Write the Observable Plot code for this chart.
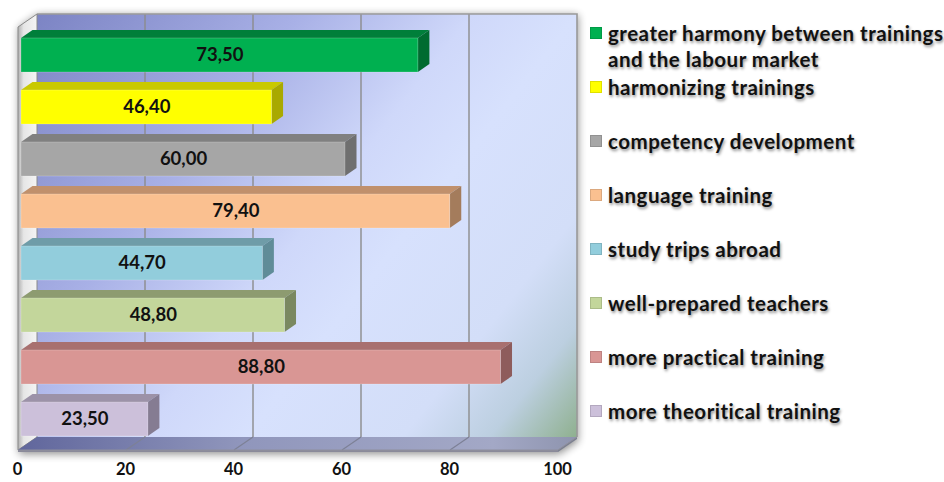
<!DOCTYPE html>
<html><head><meta charset="utf-8">
<script src="https://cdn.jsdelivr.net/npm/d3@7"></script>
<script src="https://cdn.jsdelivr.net/npm/@observablehq/plot@0.6"></script>
<style>
body{margin:0;background:#fff;}
#wrap{position:relative;width:944px;height:482px;overflow:hidden;font-family:Lato,"Open Sans",sans-serif;}
#chart{position:absolute;left:0;top:0;}
#legend{position:absolute;left:590px;top:20px;}
.item{display:flex;align-items:flex-start;height:54px;}
.sw{width:12px;height:12px;margin-top:7px;margin-right:6px;flex:none;box-sizing:border-box;border:1px solid rgba(0,0,0,0.12);}
.lab{font-weight:700;font-size:20.5px;letter-spacing:0.5px;line-height:26px;color:#111;text-shadow:1px 2px 3px rgba(0,0,0,0.45);white-space:pre;}
g[aria-label="tick-labels"] text{filter:drop-shadow(1px 2px 2px rgba(0,0,0,0.45));}
</style></head>
<body>
<div id="wrap"><div id="chart"></div><div id="legend"></div></div>
<script>
// ---- data ----
const categories = ["greater harmony between trainings and the labour market", "harmonizing trainings", "competency development", "language training", "study trips abroad", "well-prepared teachers", "more practical training", "more theoritical training"];
const legendLabels = ["greater harmony between trainings\nand the labour market", "harmonizing trainings", "competency development", "language training", "study trips abroad", "well-prepared teachers", "more practical training", "more theoritical training"];
const values = [73.5, 46.4, 60.0, 79.4, 44.7, 48.8, 88.8, 23.5];
const valueLabels = ["73,50", "46,40", "60,00", "79,40", "44,70", "48,80", "88,80", "23,50"];
const colors = ["#00b050", "#ffff00", "#a6a6a6", "#fac090", "#92cddc", "#c3d69b", "#d99694", "#ccc0da"];
const topColors = ["#007f3a", "#c9c900", "#808080", "#c0906c", "#6f9ca8", "#8d9b70", "#a8706f", "#9c92a8"];
const sideColors = ["#006b30", "#a9a900", "#6f6f6f", "#a47c5c", "#608c98", "#7a8860", "#8e5c5c", "#857c92"];
const xTicks = [0, 20, 40, 60, 80, 100];

const data = categories.map((c, i) => ({cat: c, value: values[i], label: valueLabels[i], color: colors[i], top: topColors[i], side: sideColors[i]}));

// ---- 3D geometry (pixels) ----
const BAR_DX = 11.5, BAR_DY = 8;      // bar depth
const BOX_DX = 19, BOX_DY = 13;       // floor / wall depth
const FRONT_SHIFT = -3;               // floor front edge vs bar origin

function unpack(args) {
  if (args.length >= 4) return {scales: args[1], dims: args[3]};
  return {scales: args[0], dims: args[1]};
}
function fn(s) { return typeof s === "function" ? s : (v) => s.apply(v); }
function bandwidthOf(scales) {
  const y = scales.y;
  if (y && typeof y.bandwidth === "function") return y.bandwidth();
  if (y && typeof y.bandwidth === "number") return y.bandwidth;
  if (scales.scales && scales.scales.y && scales.scales.y.bandwidth != null) return scales.scales.y.bandwidth;
  const f = fn(y);
  return (f(categories[1]) - f(categories[0])) * (1 - 0.354);
}

function background(...args) {
  const {scales, dims} = unpack(args);
  const x = fn(scales.x);
  const fx = v => x(v) + FRONT_SHIFT;
  const bx = v => fx(v) + BOX_DX;
  const yBackBottom = dims.height - dims.marginBottom - 1;
  const yFrontBottom = yBackBottom + BOX_DY;
  const yBackTop = dims.marginTop - 21;
  const yFrontTop = yBackTop + BOX_DY;
  const g = d3.create("svg:g");
  const defs = g.append("defs");
  const wg = defs.append("linearGradient").attr("id", "wallGrad").attr("gradientUnits", "userSpaceOnUse")
    .attr("x1", bx(0)).attr("y1", yBackTop).attr("x2", bx(100)).attr("y2", yBackBottom);
  [[0, "#7c84c4"], [0.3, "#a8b0e6"], [0.5, "#cfd8fa"], [0.62, "#d7e1fd"], [0.8, "#d3def8"], [0.9, "#bccfe0"], [1, "#8fb08f"]]
    .forEach(([o, c]) => wg.append("stop").attr("offset", o).attr("stop-color", c));
  const fg = defs.append("linearGradient").attr("id", "floorGrad").attr("x1", 0).attr("x2", 1).attr("y1", 0).attr("y2", 0);
  [[0, "#60669c"], [0.4, "#9096bc"], [0.85, "#a3a8c6"], [1, "#8e94ae"]]
    .forEach(([o, c]) => fg.append("stop").attr("offset", o).attr("stop-color", c));
  const lg = defs.append("linearGradient").attr("id", "leftGrad").attr("x1", 0).attr("x2", 1).attr("y1", 0).attr("y2", 0);
  [[0, "#b0b0b0"], [0.3, "#e6e6e6"], [1, "#f4f4f4"]]
    .forEach(([o, c]) => lg.append("stop").attr("offset", o).attr("stop-color", c));
  const flt = defs.append("filter").attr("id", "boxShadow").attr("x", "-10%").attr("y", "-10%").attr("width", "120%").attr("height", "120%");
  flt.append("feGaussianBlur").attr("in", "SourceAlpha").attr("stdDeviation", 4);
  flt.append("feOffset").attr("dx", 1).attr("dy", 1).attr("result", "b");
  flt.append("feComponentTransfer").append("feFuncA").attr("type", "linear").attr("slope", 0.45);

  // shadow of whole box
  g.append("path")
    .attr("d", `M${fx(0)},${yFrontTop}L${bx(0)},${yBackTop}L${bx(100)},${yBackTop}L${bx(100)},${yBackBottom + 3}L${fx(100)},${yFrontBottom + 3}L${fx(0)},${yFrontBottom + 3}Z`)
    .attr("fill", "#000").attr("filter", "url(#boxShadow)");
  // back wall
  g.append("rect").attr("x", bx(0)).attr("y", yBackTop).attr("width", bx(100) - bx(0)).attr("height", yBackBottom - yBackTop)
    .attr("fill", "url(#wallGrad)");
  // gridlines on wall
  for (const v of xTicks.slice(1, -1)) {
    g.append("line").attr("x1", bx(v)).attr("x2", bx(v)).attr("y1", yBackTop).attr("y2", yBackBottom)
      .attr("stroke", "#8c8c8c").attr("stroke-width", 1.4);
  }
  // wall border
  g.append("path").attr("d", `M${bx(0)},${yBackTop}L${bx(100)},${yBackTop}L${bx(100)},${yBackBottom}`)
    .attr("fill", "none").attr("stroke", "#9a9a9a").attr("stroke-width", 1.6);
  // left wall
  g.append("path").attr("d", `M${fx(0)},${yFrontBottom}L${bx(0)},${yBackBottom}L${bx(0)},${yBackTop}L${fx(0)},${yFrontTop}Z`)
    .attr("fill", "url(#leftGrad)").attr("stroke", "#8a8a8a").attr("stroke-width", 1);
  // floor
  g.append("path").attr("d", `M${fx(0)},${yFrontBottom}L${fx(100)},${yFrontBottom}L${bx(100)},${yBackBottom}L${bx(0)},${yBackBottom}Z`)
    .attr("fill", "url(#floorGrad)");
  g.append("path").attr("d", `M${fx(0)},${yFrontBottom}L${fx(100)},${yFrontBottom}L${fx(100)},${yFrontBottom + 2}L${fx(0)},${yFrontBottom + 2}Z`)
    .attr("fill", "#8a8a9a");
  g.append("path").attr("d", `M${fx(100)},${yFrontBottom}L${bx(100)},${yBackBottom}L${bx(100)},${yBackBottom + 2}L${fx(100)},${yFrontBottom + 2}Z`)
    .attr("fill", "#7a7f90");
  for (const v of xTicks.slice(1, -1)) {
    g.append("line").attr("x1", bx(v)).attr("x2", fx(v)).attr("y1", yBackBottom).attr("y2", yFrontBottom)
      .attr("stroke", "#7d8196").attr("stroke-width", 1.2);
  }
  g.append("path").attr("d", `M${fx(0)},${yFrontBottom}L${fx(100)},${yFrontBottom}L${bx(100)},${yBackBottom}`)
    .attr("fill", "none").attr("stroke", "#8f8f9c").attr("stroke-width", 1);
  return g.node();
}

function barFaces(...args) {
  const {scales} = unpack(args);
  const x = fn(scales.x), y = fn(scales.y);
  const bw = bandwidthOf(scales);
  const g = d3.create("svg:g");
  for (const d of data) {
    const x0 = x(0), x1 = x(d.value), yt = y(d.cat), yb = yt + bw;
    g.append("path").attr("d", `M${x0},${yt}L${x0 + BAR_DX},${yt - BAR_DY}L${x1 + BAR_DX},${yt - BAR_DY}L${x1},${yt}Z`).attr("fill", d.top);
    g.append("path").attr("d", `M${x1},${yt}L${x1 + BAR_DX},${yt - BAR_DY}L${x1 + BAR_DX},${yb - BAR_DY}L${x1},${yb}Z`).attr("fill", d.side);
  }
  return g.node();
}

const chart = Plot.plot({
  width: 590,
  height: 482,
  marginLeft: 21,
  marginRight: 29,
  marginTop: 35,
  marginBottom: 44,
  style: {fontFamily: "Lato, 'Open Sans', sans-serif", background: "transparent", overflow: "visible"},
  x: {domain: [0, 100], axis: null},
  y: {domain: categories, paddingInner: 0.354, paddingOuter: 0, axis: null},
  color: {type: "identity"},
  marks: [
    background,
    barFaces,
    Plot.barX(data, {x: "value", y: "cat", fill: "color", stroke: "#ffffff", strokeOpacity: 0.25, strokeWidth: 0.8}),
    Plot.text(data, {x: d => d.value / 2, y: "cat", text: "label", fontSize: 18.5, fontWeight: 700, fill: "#111"}),
    Plot.text(xTicks, {x: d => d, text: d => String(d), frameAnchor: "bottom", dy: 36, dx: -4, fontSize: 16.5, fontWeight: 700, fill: "#111", ariaLabel: "tick-labels"})
  ]
});
document.getElementById("chart").appendChild(chart);

const legend = d3.select("#legend");
legendLabels.forEach((t, i) => {
  const item = legend.append("div").attr("class", "item");
  item.append("div").attr("class", "sw").style("background", colors[i]);
  item.append("div").attr("class", "lab").text(t);
});
</script>
</body></html>
